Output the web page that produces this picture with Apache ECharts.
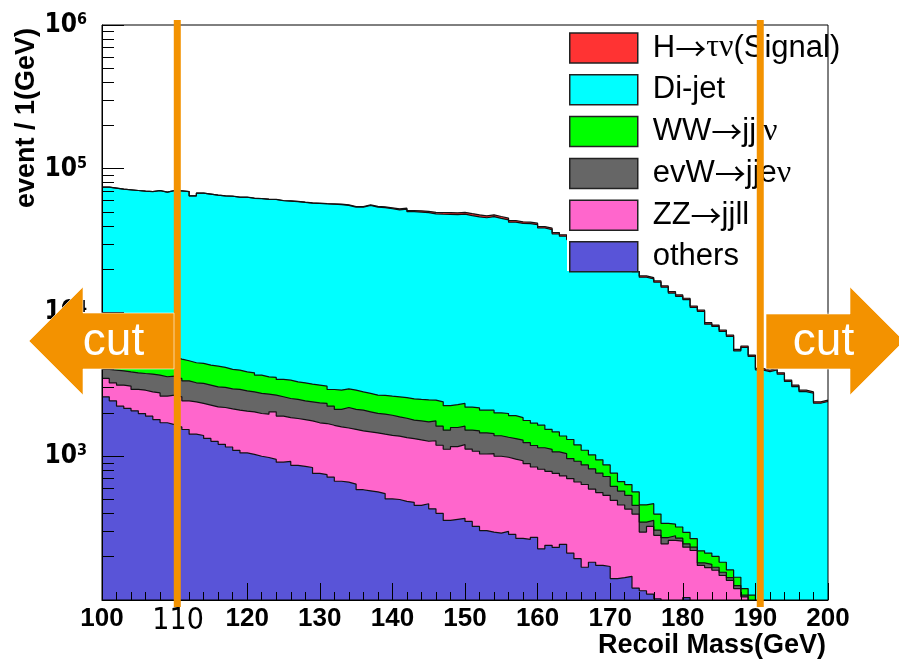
<!DOCTYPE html>
<html>
<head>
<meta charset="utf-8">
<script src="https://cdn.jsdelivr.net/npm/echarts@6/dist/echarts.min.js"></script>
<style>
  html, body { margin: 0; padding: 0; background: #fff; }
  #chart { width: 899px; height: 661px; }
</style>
</head>
<body>
<div id="chart"></div>
<script>
// recoil mass histogram, 1 GeV bins, low edges 100 .. 199
const binLow = Array.from({ length: 100 }, (_, i) => 100 + i)

// legend order (top of the stack first)
const seriesNames = ['H→τν(Signal)', 'Di-jet', 'WW→jjlν', 'evW→jjeν', 'ZZ→jjll', 'others']
const seriesColors = ['#ff3333', '#00ffff', '#00ff00', '#666666', '#ff66cc', '#5954d8']

// events per bin
const signal = [
  60, 55, 70, 65, 60, 75, 80, 70, 85, 90,
  95, 100, 90, 110, 120, 115, 130, 140, 150, 160,
  170, 185, 200, 210, 230, 250, 270, 300, 320, 350,
  380, 410, 450, 480, 520, 560, 600, 650, 700, 760,
  820, 880, 950, 1020, 1100, 1180, 1250, 1320, 1400, 1460,
  1500, 1480, 1430, 1380, 1300, 1220, 1150, 1080, 1020, 960,
  900, 850, 800, 760, 720, 680, 640, 600, 560, 530,
  500, 470, 440, 410, 380, 360, 340, 320, 300, 280,
  260, 240, 220, 200, 185, 170, 150, 130, 125, 110,
  95, 90, 88, 82, 75, 68, 62, 58, 52, 50
]
const dijet = [
  68660, 67570, 66520, 65870, 65200, 64590, 64260, 65520, 63830, 65620,
  65430, 64770, 60270, 63170, 62200, 61220, 60550, 60370, 59380, 59470,
  58510, 58240, 57730, 57570, 56490, 56210, 55800, 55060, 54450, 54200,
  53850, 53700, 53420, 52700, 51210, 51240, 52790, 51480, 51000, 50100,
  49220, 49780, 47760, 47480, 47000, 46130, 45970, 45960, 45690, 45980,
  45040, 44160, 43530, 44340, 43220, 42140, 40570, 39800, 39730, 39190,
  37080, 36230, 33700, 32540, 30860, 29620, 28520, 27220, 25760, 24370,
  22910, 21340, 19870, 18640, 17130, 16650, 15840, 14640, 13320, 12640,
  12010, 10590, 9970, 8080, 7790, 7200, 6660, 5270, 5600, 4840,
  3900, 3800, 3920, 3660, 3250, 3000, 2770, 2700, 2300, 2370
]
const wwJjlv = [
  1820, 1775, 1680, 1610, 1545, 1495, 1410, 1350, 1330, 1290,
  1263, 1266, 1226, 1215, 1181, 1197, 1138, 1076, 1059, 1015,
  1000, 933, 864, 873, 832, 860, 809, 814, 786, 773,
  745, 685, 768, 759, 768, 714, 700, 678, 687, 688,
  712, 718, 726, 723, 735, 695, 771, 731, 700, 711,
  678, 667, 639, 653, 614, 628, 587, 562, 531, 510,
  498, 423, 405, 339, 344, 276, 231, 205, 181, 147,
  146, 95, 100, 110, 111, 110, 90, 69, 57, 53,
  49, 34, 39, 35, 32, 27, 19, 18, 12, 12,
  8, 6, 5, 4, 4, 3, 3, 2, 2, 2
]
const evwJjev = [
  541, 732, 805, 792, 890, 885, 921, 907, 950, 947,
  888, 919, 853, 881, 858, 835, 827, 808, 824, 793,
  771, 751, 743, 627, 691, 664, 654, 627, 628, 645,
  640, 587, 515, 610, 581, 591, 558, 531, 538, 530,
  500, 490, 454, 463, 462, 480, 426, 399, 417, 413,
  396, 418, 416, 395, 389, 372, 372, 363, 353, 346,
  334, 329, 311, 313, 265, 261, 234, 225, 205, 188,
  124, 114, 106, 59, 51, 33, 24, 26, 20, 12,
  13, 12, 7, 9, 8, 8, 6, 6, 3, 6,
  5, 4, 4, 3, 3, 2, 2, 2, 1, 1
]
const zzJjll = [
  888, 814, 894, 925, 847, 900, 906, 959, 912, 998,
  990, 894, 966, 936, 939, 934, 973, 975, 991, 1005,
  1003, 984, 983, 1087, 992, 938, 965, 950, 928, 949,
  944, 927, 932, 913, 897, 915, 904, 889, 874, 894,
  880, 864, 850, 844, 805, 851, 792, 761, 804, 836,
  770, 758, 733, 747, 708, 684, 670, 662, 625, 569,
  585, 546, 529, 487, 487, 468, 467, 408, 385, 364,
  353, 315, 283, 275, 181, 215, 180, 154, 172, 161,
  129, 135, 94, 94, 91, 84, 79, 65, 55, 44,
  38, 34, 30, 27, 24, 21, 19, 17, 15, 13
]
const others = [
  2590, 2430, 2230, 2150, 2070, 1980, 1900, 1800, 1710, 1660,
  1600, 1535, 1425, 1395, 1330, 1270, 1210, 1160, 1100, 1055,
  1030, 1000, 980, 950, 910, 920, 865, 850, 835, 760,
  745, 715, 670, 660, 640, 585, 575, 565, 550, 505,
  500, 485, 478, 455, 467, 431, 401, 358, 364, 370,
  352, 325, 304, 297, 292, 300, 286, 268, 264, 273,
  227, 240, 232, 244, 212, 194, 169, 183, 174, 171,
  141, 143, 146, 121, 116, 110, 102, 92, 88, 96,
  104, 86, 80, 74, 70, 64, 58, 55, 50, 46,
  42, 38, 35, 32, 30, 27, 25, 22, 20, 18
]

// y tick labels that are printed (powers of ten)
const yLabelPowers = [3, 4, 5, 6]
// cut positions (GeV) and arrow labels
const cutValues = [110.37, 190.67]
const cutLabel = 'cut'

const layers = [signal, dijet, wwJjlv, evwJjev, zzJjll, others]

// cumulative stack, summed from the bottom layer up
const stacked = []
let run = new Array(binLow.length).fill(0)
for (let k = layers.length - 1; k >= 0; k--) {
  run = run.map((v, i) => v + layers[k][i])
  stacked[k] = run.slice()
}

const baseFont = '"Liberation Sans", Arial, Helvetica, sans-serif'
const narrowFont = '"Liberation Sans Narrow", "DejaVu Sans Condensed", Arial, sans-serif'

// legend text: arrow and greek letters in their own styles, like the ROOT symbol font
const legendText = name => name
  .replace('→', '{a|→}')
  .replace(/([τν]+)/g, '{g|$1}')

const chart = echarts.init(document.getElementById('chart'))

const option = {
  animation: false,
  backgroundColor: '#fff',
  grid: {
    left: 102, top: 25, width: 726, height: 575,
    show: true, borderColor: '#000', borderWidth: 1,
    backgroundColor: 'transparent', z: 10,
    outerBoundsMode: 'none'
  },
  legend: {
    orient: 'vertical',
    left: 569, top: 32,
    itemWidth: 68, itemHeight: 30, itemGap: 10,
    padding: 0,
    icon: 'rect',
    selectedMode: false,
    z: 8,
    formatter: legendText,
    textStyle: {
      fontSize: 31, lineHeight: 28, fontFamily: baseFont, color: '#000', padding: [0, 0, 0, 10],
      rich: {
        a: { fontSize: 31, lineHeight: 28, fontFamily: '"Noto Sans CJK JP", "DejaVu Sans", sans-serif', color: '#000' },
        g: { fontSize: 32, lineHeight: 28, fontFamily: '"Liberation Serif", "DejaVu Serif", serif', color: '#000' }
      }
    },
    data: seriesNames.map((n, k) => ({
      name: n,
      itemStyle: { color: seriesColors[k], borderColor: '#222', borderWidth: 1.5 }
    }))
  },
  xAxis: {
    type: 'value', min: 100, max: 200, interval: 10, z: 10,
    axisLine: { show: true, lineStyle: { color: '#000', width: 1 } },
    axisTick: { inside: true, length: 17, lineStyle: { color: '#000', width: 1 } },
    minorTick: { show: true, splitNumber: 5, length: 8, lineStyle: { color: '#000', width: 1 } },
    splitLine: { show: false },
    minorSplitLine: { show: false },
    axisLabel: {
      margin: 6, color: '#000', fontSize: 26, fontWeight: 'bold', fontFamily: baseFont,
      formatter: v => (v === 110 ? '{n|110}' : String(v)),
      rich: {
        n: { fontSize: 30, fontWeight: 'normal', fontFamily: narrowFont, color: '#000', padding: [0, 0, 0, 7] }
      }
    },
    name: 'Recoil Mass(GeV)',
    nameLocation: 'end',
    nameGap: -2,
    nameTextStyle: {
      fontSize: 27, fontWeight: 'bold', fontFamily: baseFont, color: '#000',
      align: 'right', verticalAlign: 'top', padding: [32, 0, 0, 0]
    }
  },
  yAxis: {
    type: 'log', logBase: 10, min: 100, max: 1000000, z: 10,
    axisLine: { show: true, lineStyle: { color: '#000', width: 1 } },
    axisTick: { show: true, inside: true, length: 22, lineStyle: { color: '#000', width: 1 } },
    minorTick: { show: true, splitNumber: 9, length: 12, lineStyle: { color: '#000', width: 1 } },
    splitLine: { show: false },
    minorSplitLine: { show: false },
    axisLabel: {
      margin: 15, color: '#000',
      formatter: v => {
        const p = Math.round(Math.log10(v))
        return yLabelPowers.includes(p) ? '{b|10}{s|' + p + '}' : ''
      },
      rich: {
        b: { fontSize: 26, fontWeight: 'bold', fontFamily: narrowFont, color: '#000' },
        s: { fontSize: 16, fontWeight: 'bold', fontFamily: narrowFont, color: '#000', verticalAlign: 'top' }
      }
    }
  },
  series: layers.map((_, k) => ({
    name: seriesNames[k],
    type: 'line',
    step: 'end',
    symbol: 'none',
    silent: true,
    z: 2,
    data: binLow.map((x, i) => [x, stacked[k][i]]).concat([[200, stacked[k][binLow.length - 1]]]),
    itemStyle: { color: seriesColors[k] },
    lineStyle: { color: '#111', width: 1.2 },
    areaStyle: { color: seriesColors[k], opacity: 1, origin: 'start' }
  }))
}
chart.setOption(option)

// annotations: legend backing box, cut lines, arrows, y title
const orange = '#f39200'
const cutX = cutValues.map(v => chart.convertToPixel({ xAxisIndex: 0 }, v))
const graphics = [
  { type: 'rect', z: 5, silent: true, shape: { x: 567, y: 25, width: 261, height: 246 }, style: { fill: '#fff' } }
]
cutX.forEach(px => {
  graphics.push({ type: 'rect', z: 20, silent: true, shape: { x: px - 3.5, y: 20, width: 7, height: 587 }, style: { fill: orange } })
})
// left arrow
graphics.push({
  type: 'polygon', z: 21, silent: true,
  shape: { points: [[29, 341], [83, 287], [83, 313], [174, 313], [174, 369], [83, 369], [83, 395]] },
  style: { fill: orange, stroke: 'rgba(255,255,255,0.6)', lineWidth: 1 }
})
// right arrow
graphics.push({
  type: 'polygon', z: 21, silent: true,
  shape: { points: [[766, 314], [850, 314], [850, 287], [904, 341], [850, 395], [850, 369], [766, 369]] },
  style: { fill: orange, stroke: 'rgba(255,255,255,0.6)', lineWidth: 1 }
})
;[113.5, 823.5].forEach(cx => {
  graphics.push({
    type: 'text', z: 22, silent: true, x: cx, y: 342,
    style: { text: cutLabel, fill: '#fff', font: '46px ' + baseFont, align: 'center', verticalAlign: 'middle' }
  })
})
graphics.push({
  type: 'text', z: 22, silent: true, x: 27, y: 118, rotation: Math.PI / 2,
  style: { text: 'event / 1(GeV)', fill: '#000', font: 'bold 27px ' + baseFont, align: 'center', verticalAlign: 'middle' }
})

chart.setOption({ graphic: graphics })
</script>
</body>
</html>
